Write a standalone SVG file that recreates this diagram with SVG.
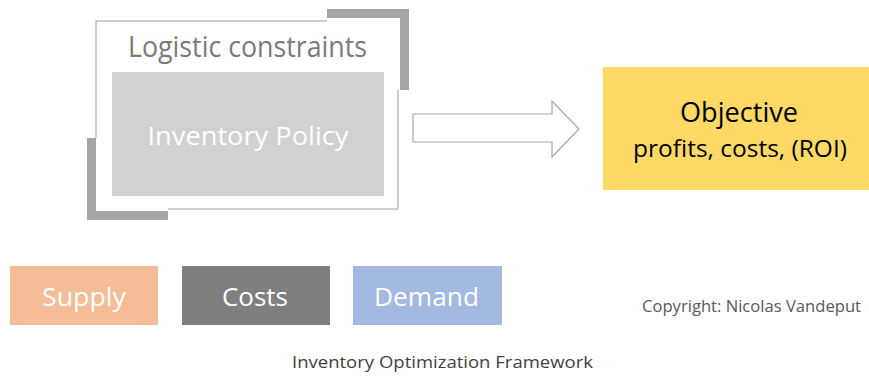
<svg xmlns="http://www.w3.org/2000/svg" width="869" height="376" viewBox="0 0 869 376">
  <style>
    text { font-family: "Open Sans", "Noto Sans", "Liberation Sans", sans-serif; }
    .frame { fill: none; stroke: #bfbfbf; stroke-width: 1.5; }
    .bracket { fill: #a5a5a5; }
    .white { fill: #ffffff; }
    .mid { text-anchor: middle; }
  </style>

  <rect width="869" height="376" fill="#ffffff"/>

  <!-- Logistic constraints frame with corner brackets -->
  <g id="logistic-constraints">
    <path class="frame" d="M327,21 H96 V138"/>
    <path class="frame" d="M398,90 V209 H168"/>
    <path class="bracket" d="M327,9 H409 V90 H400 V18 H327 Z"/>
    <path class="bracket" d="M87,138 H96 V211 H168 V220 H87 Z"/>
    <text x="247.5" y="57" class="mid" font-size="29" fill="#7a7a7a" textLength="239" lengthAdjust="spacingAndGlyphs">Logistic constraints</text>
  </g>

  <!-- Inventory policy -->
  <g id="inventory-policy">
    <rect x="112" y="72" width="272" height="124" fill="#d1d1d1"/>
    <text x="248" y="145" class="mid white" font-size="26" textLength="201" lengthAdjust="spacingAndGlyphs">Inventory Policy</text>
  </g>

  <!-- Objective -->
  <g id="objective">
    <rect x="603" y="67" width="266" height="123" fill="#ffd966"/>
    <text x="739" y="122" class="mid" font-size="27" fill="#000000" textLength="118" lengthAdjust="spacingAndGlyphs">Objective</text>
    <text x="740" y="157" class="mid" font-size="23" fill="#000000" textLength="214" lengthAdjust="spacingAndGlyphs">profits, costs, (ROI)</text>
  </g>

  <!-- Input boxes -->
  <g id="supply">
    <rect x="10" y="266" width="148" height="59" fill="#f5bd97"/>
    <text x="84" y="306" class="mid white" font-size="26" textLength="84" lengthAdjust="spacingAndGlyphs">Supply</text>
  </g>
  <g id="costs">
    <rect x="182" y="266" width="148" height="59" fill="#7f7f7f"/>
    <text x="255" y="306" class="mid white" font-size="26" textLength="66" lengthAdjust="spacingAndGlyphs">Costs</text>
  </g>
  <g id="demand">
    <rect x="353" y="266" width="149" height="59" fill="#a2b9e1"/>
    <text x="426.5" y="306" class="mid white" font-size="26" textLength="105" lengthAdjust="spacingAndGlyphs">Demand</text>
  </g>

  <!-- Captions -->
  <g id="copyright">
    <text x="642" y="312" font-size="15.5" fill="#595959" textLength="219" lengthAdjust="spacingAndGlyphs">Copyright: Nicolas Vandeput</text>
  </g>
  <g id="title">
    <text x="292" y="368" font-size="17" fill="#404040" textLength="301" lengthAdjust="spacingAndGlyphs">Inventory Optimization Framework</text>
  </g>

  <!-- Connectors -->
  <g id="connectors">
    <path d="M413,114 H552 V101 L579,129 L552,157 V142 H413 Z" fill="#ffffff" stroke="#a6a6a6" stroke-width="1.2" stroke-linejoin="miter"/>
  </g>
</svg>
